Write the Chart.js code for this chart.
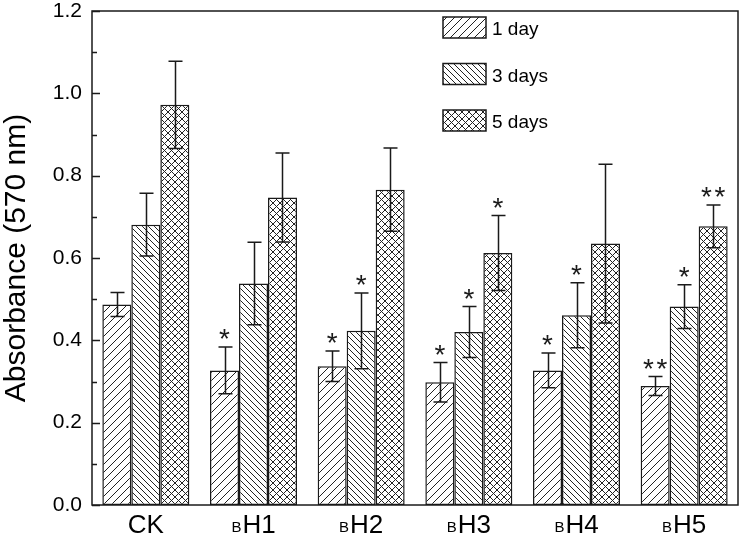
<!DOCTYPE html>
<html>
<head>
<meta charset="utf-8">
<script src="https://cdn.jsdelivr.net/npm/chart.js@4.4.1/dist/chart.umd.min.js"></script>
<style>
html,body{margin:0;padding:0;background:#fff;}
#wrap{width:740px;height:535px;position:relative;}
</style>
</head>
<body>
<div id="wrap"><canvas id="c"></canvas></div>
<script>
// ---- data ----
const labelMain   = ['CK', 'H1', 'H2', 'H3', 'H4', 'H5'];
const labelPrefix = ['',   'B',  'B',  'B',  'B',  'B'];
const seriesNames = ['1 day', '3 days', '5 days'];

const day1 = [0.487, 0.327, 0.337, 0.298, 0.327, 0.289];
const err1 = [0.029, 0.057, 0.037, 0.048, 0.042, 0.023];
const star1 = ['', '*', '*', '*', '*', '**'];

const day3 = [0.681, 0.538, 0.423, 0.420, 0.461, 0.482];
const err3 = [0.076, 0.100, 0.092, 0.062, 0.079, 0.053];
const star3 = ['', '', '*', '*', '*', '*'];

const day5 = [0.972, 0.747, 0.766, 0.612, 0.635, 0.677];
const err5 = [0.106, 0.108, 0.101, 0.091, 0.193, 0.052];
const star5 = ['', '', '', '*', '', '**'];

const yTickValues  = [0, 0.2, 0.4, 0.6, 0.8, 1.0, 1.2];
const yMinorValues = [0.1, 0.3, 0.5, 0.7, 0.9, 1.1];

// ---- styling helpers ----
const FONT = "'Liberation Sans', Arial, Helvetica, sans-serif";
const INK = '#1a1a1a';

function makePattern(kind) {
  const s = kind === 'fwd' ? 8 : (kind === 'back' ? 6 : 7);
  const c = document.createElement('canvas');
  c.width = s; c.height = s;
  const g = c.getContext('2d');
  g.fillStyle = '#fff';
  g.fillRect(0, 0, s, s);
  g.strokeStyle = '#222';
  g.lineWidth = 1;
  const fwd = () => {
    g.beginPath();
    g.moveTo(-1, s + 1); g.lineTo(s + 1, -1);
    g.moveTo(-1, 1); g.lineTo(1, -1);
    g.moveTo(s - 1, s + 1); g.lineTo(s + 1, s - 1);
    g.stroke();
  };
  const back = () => {
    g.beginPath();
    g.moveTo(-1, -1); g.lineTo(s + 1, s + 1);
    g.moveTo(s - 1, -1); g.lineTo(s + 1, 1);
    g.moveTo(-1, s - 1); g.lineTo(1, s + 1);
    g.stroke();
  };
  if (kind === 'fwd') fwd();
  else if (kind === 'back') back();
  else { fwd(); back(); }
  return g.createPattern(c, 'repeat');
}

const patterns = [makePattern('fwd'), makePattern('back'), makePattern('cross')];

const errorSets = [err1, err3, err5];
const starSets = [star1, star3, star5];

const overlay = {
  id: 'overlay',
  afterDatasetsDraw(chart) {
    const ctx = chart.ctx;
    const y = chart.scales.y;
    const a = chart.chartArea;
    ctx.save();
    // error bars + stars
    chart.data.datasets.forEach((ds, di) => {
      const meta = chart.getDatasetMeta(di);
      meta.data.forEach((bar, i) => {
        const v = ds.data[i], e = errorSets[di][i];
        const yT = y.getPixelForValue(v + e);
        const yB = y.getPixelForValue(v - e);
        const x = Math.round(bar.x) + 0.5;
        ctx.strokeStyle = INK;
        ctx.lineWidth = 1.5;
        ctx.beginPath();
        ctx.moveTo(x, yT); ctx.lineTo(x, yB);
        ctx.moveTo(x - 7, yT); ctx.lineTo(x + 7, yT);
        ctx.moveTo(x - 7, yB); ctx.lineTo(x + 7, yB);
        ctx.stroke();
        const st = starSets[di][i];
        if (st) {
          ctx.fillStyle = INK;
          ctx.font = '28px ' + FONT;
          ctx.textAlign = 'center';
          ctx.textBaseline = 'alphabetic';
          const n = st.length;
          for (let k = 0; k < n; k++) {
            ctx.fillText('*', bar.x + (k - (n - 1) / 2) * 13.5, yT + 1);
          }
        }
      });
    });
    // frame
    ctx.strokeStyle = INK;
    ctx.lineWidth = 1.5;
    ctx.strokeRect(a.left, a.top, a.right - a.left, a.bottom - a.top);
    // inward ticks on the y axis
    ctx.beginPath();
    yTickValues.forEach(v => {
      const py = Math.round(y.getPixelForValue(v)) + 0.5;
      ctx.moveTo(a.left, py); ctx.lineTo(a.left + 8, py);
    });
    yMinorValues.forEach(v => {
      const py = Math.round(y.getPixelForValue(v)) + 0.5;
      ctx.moveTo(a.left, py); ctx.lineTo(a.left + 5, py);
    });
    ctx.stroke();
    ctx.restore();
  },
  afterDraw(chart) {
    const ctx = chart.ctx;
    const xs = chart.scales.x;
    ctx.save();
    // x category labels (small prefix letter + main text)
    ctx.fillStyle = '#000';
    ctx.textBaseline = 'alphabetic';
    ctx.textAlign = 'left';
    labelMain.forEach((m, i) => {
      const p = labelPrefix[i];
      const cx = xs.getPixelForValue(i);
      ctx.font = '15px ' + FONT;
      const wp = p ? ctx.measureText(p).width + 1 : 0;
      ctx.font = '26px ' + FONT;
      const wm = ctx.measureText(m).width;
      const x0 = cx - (wp + wm) / 2;
      if (p) {
        ctx.font = '15px ' + FONT;
        ctx.fillText(p, x0, 532);
      }
      ctx.font = '26px ' + FONT;
      ctx.fillText(m, x0 + wp, 533);
    });
    // legend
    chart.data.datasets.forEach((ds, i) => {
      const top = 17 + i * 46.5;
      ctx.fillStyle = patterns[i];
      ctx.fillRect(443, top, 43, 21);
      ctx.strokeStyle = INK;
      ctx.lineWidth = 1.5;
      ctx.strokeRect(443, top, 43, 21);
      ctx.fillStyle = '#000';
      ctx.font = '19px ' + FONT;
      ctx.textAlign = 'left';
      ctx.textBaseline = 'alphabetic';
      ctx.fillText(ds.label, 492, top + 18);
    });
    ctx.restore();
  }
};

Chart.defaults.font.family = FONT;
Chart.defaults.color = '#000';

new Chart(document.getElementById('c'), {
  type: 'bar',
  data: {
    labels: labelMain.map((m, i) => labelPrefix[i] + m),
    datasets: [
      { label: seriesNames[0], data: day1, backgroundColor: patterns[0] },
      { label: seriesNames[1], data: day3, backgroundColor: patterns[1] },
      { label: seriesNames[2], data: day5, backgroundColor: patterns[2] }
    ].map(d => Object.assign(d, {
      borderColor: INK, borderWidth: 1.5, borderSkipped: false,
      categoryPercentage: 0.808, barPercentage: 1.0
    }))
  },
  options: {
    responsive: true,
    maintainAspectRatio: false,
    animation: false,
    layout: { padding: { top: 11, right: 2, left: 0, bottom: 0 } },
    plugins: { legend: { display: false }, tooltip: { enabled: false } },
    scales: {
      x: {
        offset: true,
        grid: { display: false, drawTicks: false },
        border: { display: false },
        ticks: { display: false },
        afterFit(s) { s.height = 30; s.paddingLeft = 0; s.paddingRight = 0; }
      },
      y: {
        min: 0, max: 1.2,
        afterBuildTicks(s) { s.ticks = yTickValues.map(v => ({ value: v })); },
        ticks: {
          callback: v => Number(v).toFixed(1),
          font: { size: 21, family: FONT },
          color: '#000',
          padding: 10
        },
        grid: { display: false, drawTicks: false },
        border: { display: false },
        title: {
          display: true,
          text: 'Absorbance (570 nm)',
          font: { size: 30, family: FONT, lineHeight: 1.1 },
          color: '#000',
          padding: { top: 0, bottom: 0 }
        },
        afterFit(s) { s.width = 92; s.paddingTop = 0; s.paddingBottom = 0; }
      }
    }
  },
  plugins: [overlay]
});
</script>
</body>
</html>
